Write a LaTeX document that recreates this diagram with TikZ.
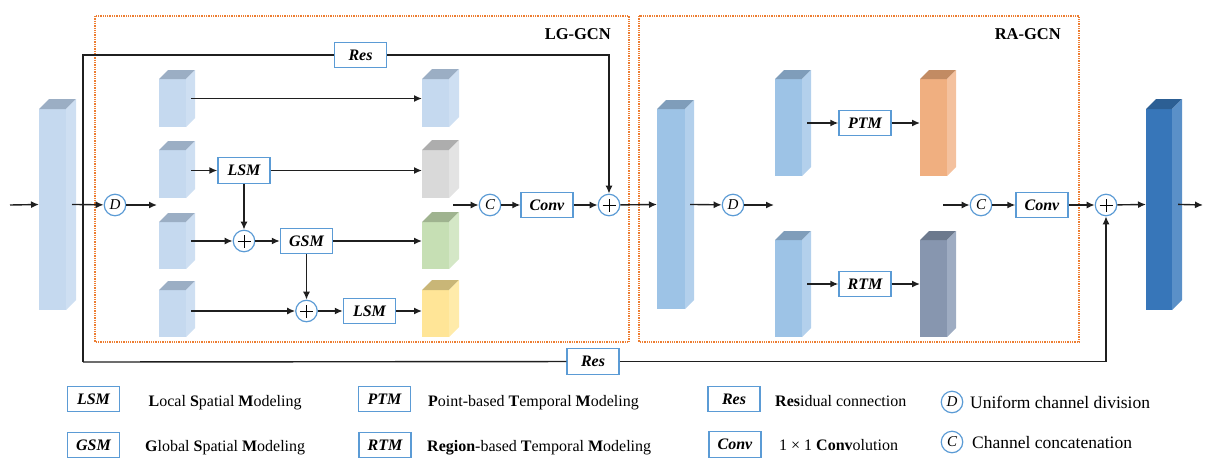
\documentclass[tikz,border=0pt]{standalone}
\usepackage{fontspec}
\setmainfont{Liberation Serif}
\usetikzlibrary{arrows.meta}
\definecolor{boxblue}{HTML}{5B9BD5}
\definecolor{dotorange}{HTML}{ED7D31}
\definecolor{lbF}{HTML}{C5D9EF}\definecolor{lbT}{HTML}{9BAEC4}\definecolor{lbS}{HTML}{CEDFF2}
\definecolor{gyF}{HTML}{D9D9D9}\definecolor{gyT}{HTML}{ADADAD}\definecolor{gyS}{HTML}{E3E3E3}
\definecolor{grF}{HTML}{C6DFB4}\definecolor{grT}{HTML}{9FB38F}\definecolor{grS}{HTML}{D4E7C6}
\definecolor{ywF}{HTML}{FFE597}\definecolor{ywT}{HTML}{C9B677}\definecolor{ywS}{HTML}{FFEBAA}
\definecolor{mbF}{HTML}{9DC3E6}\definecolor{mbT}{HTML}{7F9DBA}\definecolor{mbS}{HTML}{B3D0EC}
\definecolor{orF}{HTML}{F0AF80}\definecolor{orT}{HTML}{C28B63}\definecolor{orS}{HTML}{F4C19E}
\definecolor{gbF}{HTML}{8796AF}\definecolor{gbT}{HTML}{6C798D}\definecolor{gbS}{HTML}{9EACC2}
\definecolor{dbF}{HTML}{3776B9}\definecolor{dbT}{HTML}{2C5F94}\definecolor{dbS}{HTML}{5A90C8}
% name, x-left, y-top(front), width, height, depth, front, top, side
\newcommand\cubeblock[9]{%
  \fill[#7] (#2,#3) rectangle ++(#4,#5);
  \fill[#8] (#2,#3) -- ++(#6,-#6) -- ++(#4,0) -- ++(-#6,#6) -- cycle;
  \fill[#9] (#2+#4,#3) -- ++(#6,-#6) -- ++(0,#5) -- ++(-#6,#6) -- cycle;
  \node[inner sep=0,outer sep=0,minimum width={(#4+#6)*1pt},minimum height={(#5+#6)*1pt}] (#1) at ({#2+(#4+#6)/2},{#3+(#5-#6)/2}) {};
}
\tikzset{
  mbox/.style={draw=boxblue, line width=1.4pt, fill=white, minimum width=52pt, minimum height=25.5pt, inner sep=0, font=\fontsize{16}{16}\selectfont\bfseries\itshape},
  opc/.style={circle, draw=boxblue, line width=1.2pt, fill=white, minimum size=21.5pt, inner sep=0, font=\fontsize{15}{15}\selectfont\itshape},
  plusc/.style={opc, path picture={\draw[black,line width=1pt] ([xshift=-6.5pt]path picture bounding box.center) -- ([xshift=6.5pt]path picture bounding box.center) ([yshift=-6.5pt]path picture bounding box.center) -- ([yshift=6.5pt]path picture bounding box.center);}},
  arr/.style={-{Latex[length=8pt,width=7pt]}, line width=1.4pt, draw=black!88},
  ln/.style={line width=1.4pt, draw=black!88},
  grp/.style={draw=dotorange, line width=1.3pt, densely dotted},
  fc/.style={shorten <=-4pt},
  lgtext/.style={anchor=base west, inner sep=0, font=\fontsize{16}{16}\selectfont},
  lgbig/.style={anchor=base west, inner sep=0, font=\fontsize{17.5}{18}\selectfont},
  ttl/.style={anchor=east, inner sep=0, font=\fontsize{16.5}{17}\selectfont\bfseries},
}
\begin{document}
\begin{tikzpicture}[x=1pt,y=-1pt]
\useasboundingbox (0,0) rectangle (1205,461);
% groups
\draw[grp] (95,16) rectangle (629,342);
\draw[grp] (639,16) rectangle (1079,342);
\node[ttl] (t1) at (611,34) {LG-GCN};
\node[ttl] (t2) at (1061,34) {RA-GCN};
% cubes
\cubeblock{B1}{39}{109}{27}{201}{10}{lbF}{lbT}{lbS}
\cubeblock{L1}{159}{79}{27}{48}{9}{lbF}{lbT}{lbS}
\cubeblock{L2}{159}{150}{27}{48}{9}{lbF}{lbT}{lbS}
\cubeblock{L3}{159}{222}{27}{47}{9}{lbF}{lbT}{lbS}
\cubeblock{L4}{159}{290}{27}{47}{9}{lbF}{lbT}{lbS}
\cubeblock{R1}{422}{79}{27}{48}{10}{lbF}{lbT}{lbS}
\cubeblock{R2}{422}{150}{27}{48}{10}{gyF}{gyT}{gyS}
\cubeblock{R3}{422}{222}{27}{47}{10}{grF}{grT}{grS}
\cubeblock{R4}{422}{290}{27}{47}{10}{ywF}{ywT}{ywS}
\cubeblock{B2}{657}{109}{28}{200}{9}{mbF}{mbT}{mbS}
\cubeblock{U1}{775}{79}{27}{97}{9}{mbF}{mbT}{mbS}
\cubeblock{U2}{775}{240}{27}{97}{9}{mbF}{mbT}{mbS}
\cubeblock{O1}{920}{79}{27}{97}{9}{orF}{orT}{orS}
\cubeblock{G1}{920}{240}{27}{97}{9}{gbF}{gbT}{gbS}
\cubeblock{B3}{1146}{109}{26}{201}{10}{dbF}{dbT}{dbS}
% nodes
\coordinate (inS) at (10,205);
\node[opc] (D1) at (115,205) {D};
\coordinate (dE) at (157,205);
\node[mbox] (lsm1) at (244,170.5) {LSM};
\node[plusc] (P1) at (244,241) {};
\node[mbox] (gsm) at (306.5,241) {GSM};
\node[plusc] (P2) at (306.5,311) {};
\node[mbox] (lsm2) at (369.5,311) {LSM};
\coordinate (cS) at (453,205);
\node[opc] (C1) at (490,205) {C};
\node[mbox] (conv1) at (547,205) {Conv};
\node[plusc] (P3) at (609,205) {};
\node[opc] (D2) at (733,205) {D};
\coordinate (dE2) at (774,205);
\node[mbox] (ptm) at (865,123) {PTM};
\node[mbox] (rtm) at (865,284) {RTM};
\coordinate (cS2) at (943,205);
\node[opc] (C2) at (981,205) {C};
\node[mbox] (conv2) at (1042,205) {Conv};
\node[plusc] (P4) at (1106,205) {};
\coordinate (outE) at (1203,205);
\coordinate (tl) at (83,55);
\coordinate (bl) at (83,362);
\node[mbox] (res1) at (360.5,55) {Res};
\node[mbox] (res2) at (593,361.5) {Res};
% connectors
\draw[arr] (inS) -- (B1.west);
\draw[arr,fc] (B1.east) -- (D1);
\draw[arr] (D1) -- (dE);
\draw[ln] (bl) -- (tl) -- (res1);
\draw[arr] (res1) -| (P3);
\draw[ln] (bl) -- (res2);
\draw[arr] (res2) -| (P4);
\draw[arr,fc] (L1.east) -- (L1.east -| R1.west);
\draw[arr,fc] (L2.east |- lsm1) -- (lsm1);
\draw[arr] (lsm1) -- (lsm1 -| R2.west);
\draw[arr,fc] (L3.east |- P1) -- (P1);
\draw[arr] (lsm1) -- (P1);
\draw[arr] (P1) -- (gsm);
\draw[arr] (gsm) -- (gsm -| R3.west);
\draw[arr,fc] (L4.east |- P2) -- (P2);
\draw[arr] (gsm) -- (P2);
\draw[arr] (P2) -- (lsm2);
\draw[arr] (lsm2) -- (lsm2 -| R4.west);
\draw[arr] (cS) -- (C1);
\draw[arr] (C1) -- (conv1);
\draw[arr] (conv1) -- (P3);
\draw[arr] (P3) -- (B2.west);
\draw[arr,fc] (B2.east) -- (D2);
\draw[arr] (D2) -- (dE2);
\draw[arr,fc] (U1.east |- ptm) -- (ptm);
\draw[arr] (ptm) -- (ptm -| O1.west);
\draw[arr,fc] (U2.east |- rtm) -- (rtm);
\draw[arr] (rtm) -- (rtm -| G1.west);
\draw[arr] (cS2) -- (C2);
\draw[arr] (C2) -- (conv2);
\draw[arr] (conv2) -- (P4);
\draw[arr] (P4) -- (B3.west);
\draw[arr,fc] (B3.east) -- (outE);
% legend
\node[mbox] (kLSM) at (93.5,399) {LSM};
\node[lgtext] (tLSM) at (148.5,406) {\textbf{L}ocal \textbf{S}patial \textbf{M}odeling};
\node[mbox] (kGSM) at (93.5,445) {GSM};
\node[lgtext] (tGSM) at (145,451) {\textbf{G}lobal \textbf{S}patial \textbf{M}odeling};
\node[mbox] (kPTM) at (384.5,399) {PTM};
\node[lgtext] (tPTM) at (428,406) {\textbf{P}oint-based \textbf{T}emporal \textbf{M}odeling};
\node[mbox] (kRTM) at (385,445) {RTM};
\node[lgtext] (tRTM) at (427,451) {\textbf{Region}-based \textbf{T}emporal \textbf{M}odeling};
\node[mbox] (kRes) at (734,399) {Res};
\node[lgtext] (tRes) at (775,406) {\textbf{Res}idual connection};
\node[mbox] (kConv) at (735,444.5) {Conv};
\node[lgtext] (tConv) at (779,450) {1 × 1 \textbf{Conv}olution};
\node[opc] (kD) at (952,402) {D};
\node[lgbig] (tD) at (970,408) {Uniform channel division};
\node[opc] (kC) at (952,442) {C};
\node[lgbig] (tC) at (972,448) {Channel concatenation};
\end{tikzpicture}
\end{document}
